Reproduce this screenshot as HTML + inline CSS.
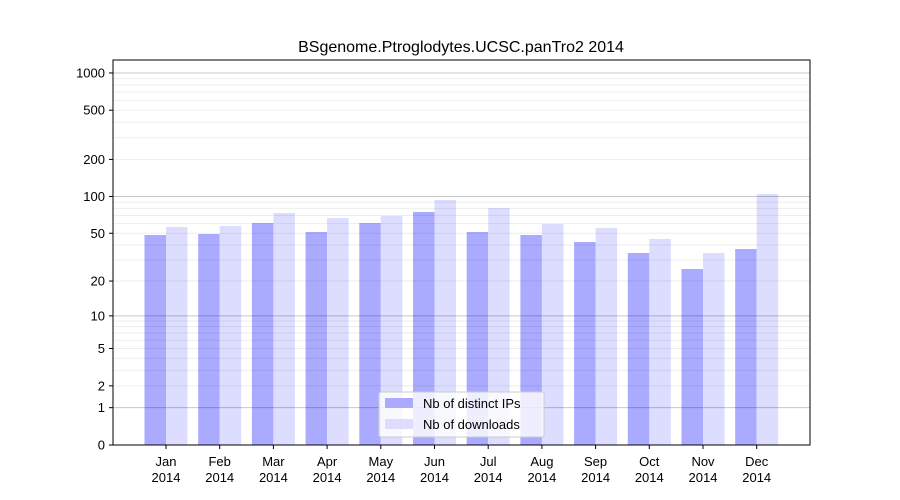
<!DOCTYPE html>
<html><head><meta charset="utf-8"><style>body{margin:0;background:#fff}svg{display:block;font-family:"Liberation Sans","DejaVu Sans",sans-serif}</style></head>
<body>
<svg id="s" width="900" height="500" xmlns="http://www.w3.org/2000/svg">
<rect width="900" height="500" fill="#fff"/>
<g id="bars"></g>
<g id="grid"></g>
<rect x="113" y="60" width="697" height="385" fill="none" stroke="#000" stroke-width="1"/>
<g id="ticks" font-size="13" fill="#000"></g>
<text x="461" y="52" font-size="16" text-anchor="middle">BSgenome.Ptroglodytes.UCSC.panTro2 2014</text>
<g>
<rect x="379" y="392" width="165" height="45" fill="#fff" fill-opacity="0.8" stroke="#ccc" rx="2"/>
<rect x="385" y="398" width="28" height="10" fill="#aaaaff"/>
<text x="423" y="408" font-size="13">Nb of distinct IPs</text>
<rect x="385" y="419" width="28" height="10" fill="#ddddff"/>
<text x="423" y="429" font-size="13">Nb of downloads</text>
</g>
</svg>
<script>
var ns="http://www.w3.org/2000/svg";
function el(p,t,a,txt){var e=document.createElementNS(ns,t);for(var k in a)e.setAttribute(k,a[k]);if(txt!==undefined)e.textContent=txt;document.getElementById(p).appendChild(e);}
function Y(v){return 445-124*Math.log10(v+1);}
var g=[];for(var d=1;d<=1000;d*=10)for(var m=1;m<10;m++){var v=m*d;if(v>1200)break;g.push(v);}
g.forEach(function(v){var maj=(v==1||v==10||v==100||v==1000);el("grid","line",{x1:113,x2:810,y1:Y(v),y2:Y(v),stroke:"#000","stroke-opacity":maj?0.22:0.07,"stroke-width":1});});
var labs=[0,1,2,5,10,20,50,100,200,500,1000];
labs.forEach(function(v){var y=Y(v);el("ticks","line",{x1:109,x2:113,y1:y,y2:y,stroke:"#000"});el("ticks","text",{x:105,y:y+4.5,"text-anchor":"end"},String(v));});
var mon=["Jan","Feb","Mar","Apr","May","Jun","Jul","Aug","Sep","Oct","Nov","Dec"];
var tops=[[235,227],[234,226],[223,213],[232,218],[223,216],[212,200],[232,208],[235,224],[242,228],[253,239],[269,253],[249,194]];
for(var i=0;i<12;i++){var c=166+i*53.7;
el("bars","rect",{x:c-21.5,y:tops[i][0],width:21.5,height:445-tops[i][0],fill:"#aaaaff"});
el("bars","rect",{x:c,y:tops[i][1],width:21.5,height:445-tops[i][1],fill:"#ddddff"});
el("ticks","line",{x1:c,x2:c,y1:445,y2:449,stroke:"#000"});
el("ticks","text",{x:c,y:466,"text-anchor":"middle"},mon[i]);
el("ticks","text",{x:c,y:482,"text-anchor":"middle"},"2014");}
</script>
</body></html>
